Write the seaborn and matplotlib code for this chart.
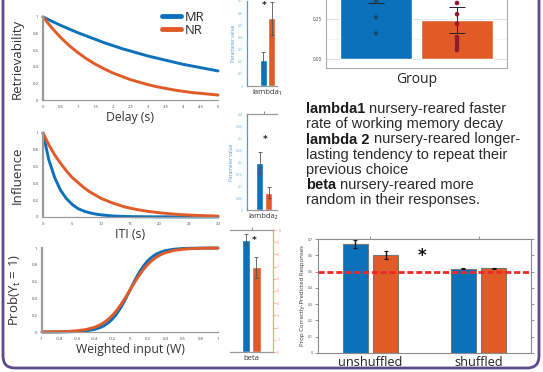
import numpy as np
import pandas as pd
import matplotlib
matplotlib.use("Agg")
import matplotlib.pyplot as plt
import seaborn as sns
from matplotlib.patches import FancyBboxPatch
from matplotlib.ticker import FuncFormatter

# ---- data ----
groups = ["MR", "NR"]

delay = [0, 0.25, 0.5, 0.75, 1, 1.25, 1.5, 1.75, 2, 2.25, 2.5, 2.75, 3, 3.25, 3.5, 3.75, 4, 4.25, 4.5, 4.75, 5]
retr_mr = [1.0, 0.95, 0.90, 0.855, 0.81, 0.77, 0.73, 0.69, 0.655, 0.62, 0.59, 0.56, 0.53, 0.505, 0.48, 0.455, 0.43, 0.41, 0.39, 0.37, 0.35]
retr_nr = [1.0, 0.87, 0.755, 0.655, 0.57, 0.495, 0.43, 0.375, 0.325, 0.285, 0.245, 0.215, 0.185, 0.16, 0.14, 0.12, 0.105, 0.09, 0.08, 0.07, 0.06]

iti = [0, 1, 2, 3, 4, 5, 6, 7, 8, 9, 10, 12, 14, 16, 18, 20, 22, 24, 26, 28, 30]
infl_mr = [1.0, 0.68, 0.47, 0.32, 0.22, 0.15, 0.10, 0.07, 0.05, 0.035, 0.025, 0.012, 0.006, 0.004, 0.003, 0.002, 0.002, 0.001, 0.001, 0.001, 0.001]
infl_nr = [1.0, 0.86, 0.74, 0.64, 0.55, 0.47, 0.41, 0.35, 0.30, 0.26, 0.22, 0.165, 0.12, 0.09, 0.067, 0.05, 0.037, 0.027, 0.02, 0.015, 0.011]

w_input = [-1, -0.9, -0.8, -0.7, -0.6, -0.5, -0.4, -0.35, -0.3, -0.25, -0.2, -0.15, -0.1, -0.05, 0,
           0.05, 0.1, 0.15, 0.2, 0.25, 0.3, 0.35, 0.4, 0.5, 0.6, 0.7, 0.8, 0.9, 1]
prob_mr = [0.0002, 0.0005, 0.001, 0.003, 0.006, 0.014, 0.032, 0.049, 0.072, 0.107, 0.154, 0.218, 0.299, 0.395, 0.5,
           0.605, 0.701, 0.782, 0.846, 0.893, 0.928, 0.951, 0.968, 0.986, 0.994, 0.997, 0.999, 0.9995, 0.9998]
prob_nr = [0.001, 0.002, 0.004, 0.007, 0.015, 0.029, 0.057, 0.079, 0.109, 0.148, 0.198, 0.259, 0.332, 0.413, 0.5,
           0.587, 0.668, 0.741, 0.802, 0.852, 0.891, 0.921, 0.943, 0.971, 0.985, 0.993, 0.996, 0.998, 0.999]

lambda1_mean = [0.214, 0.556]
lambda1_err = [0.066, 0.136]
lambda2_mean = [0.1975, 0.0725]
lambda2_err = [0.0425, 0.0225]
beta_mean = [9.2, 6.95]
beta_err = [0.45, 0.85]

group_mean = [0.45, 0.245]
group_err = [0.10, 0.0825]
mr_points = [0.36, 0.26, 0.16]
nr_points = [0.35, 0.28, 0.22, 0.1375, 0.125, 0.106, 0.0875, 0.069, 0.056]

conditions = ["unshuffled", "shuffled"]
acc_mr = [0.669, 0.516]
acc_nr = [0.602, 0.520]
acc_mr_err = [0.027, 0.003]
acc_nr_err = [0.022, 0.002]
chance = 0.5

notes = [("lambda1", "nursery-reared faster"),
         ("", "rate of working memory decay"),
         ("lambda 2", "nursery-reared longer-"),
         ("", "lasting tendency to repeat their"),
         ("", "previous choice"),
         ("beta", "nursery-reared more"),
         ("", "random in their responses.")]

# ---- style ----
BLUE = "#0b71ba"
ORANGE = "#e05b27"
GRAY = "#8c8c8c"
palette = {"MR": BLUE, "NR": ORANGE}

sns.set_style("white")
plt.rcParams["font.family"] = ["Open Sans", "DejaVu Sans"]
plt.rcParams["mathtext.fontset"] = "custom"
plt.rcParams["mathtext.rm"] = "Open Sans"

W, H = 543, 372
fig = plt.figure(figsize=(W / 100, H / 100), dpi=100)


def px_axes(x0, y0, x1, y1):
    return fig.add_axes([x0 / W, 1 - y1 / H, (x1 - x0) / W, (y1 - y0) / H])


fmt = FuncFormatter(lambda v, p: f"{v:g}")


def curve_panel(ax, xs, mr, nr, xlim, xticks, xlabel, ylabel, legend=False):
    df = pd.DataFrame({"x": list(xs) * 2, "y": list(mr) + list(nr),
                       "group": ["MR"] * len(xs) + ["NR"] * len(xs)})
    sns.lineplot(data=df, x="x", y="y", hue="group", palette=palette, lw=2.1,
                 ax=ax, legend=legend, estimator=None)
    for ln in ax.lines:
        ln.set_clip_on(False)
    ax.set_xlim(xlim)
    ax.set_ylim(0, 1)
    ax.set_xticks(xticks)
    ax.set_yticks([0, 0.2, 0.4, 0.6, 0.8, 1])
    ax.xaxis.set_major_formatter(fmt)
    ax.yaxis.set_major_formatter(fmt)
    ax.tick_params(length=2, width=0.6, color=GRAY, labelsize=3, pad=1.5, labelcolor="#444")
    for s in ["top", "right"]:
        ax.spines[s].set_visible(False)
    ax.spines["left"].set_color("#9a9a9a")
    ax.spines["left"].set_linewidth(1.6)
    ax.spines["bottom"].set_color("#9a9a9a")
    ax.spines["bottom"].set_linewidth(0.9)
    ax.set_xlabel(xlabel, fontsize=8.8, color="#333", labelpad=1.5)
    ax.set_ylabel(ylabel, fontsize=9.5, color="#333", labelpad=6)
    ax.set_facecolor("none")


ax1 = px_axes(43, 17, 218, 100)
curve_panel(ax1, delay, retr_mr, retr_nr, (0, 5), [0, 0.5, 1, 1.5, 2, 2.5, 3, 3.5, 4, 4.5, 5],
            "Delay (s)", "Retrievability", legend=True)
sns.move_legend(ax1, "upper left", bbox_to_anchor=(0.65, 1.14), title=None, frameon=False,
                fontsize=9.3, handlelength=1.5, handletextpad=0.3, labelspacing=0.0, borderaxespad=0)
for h in ax1.get_legend().get_lines():
    h.set_linewidth(3.5)

ax2 = px_axes(43, 133, 218, 217)
curve_panel(ax2, iti, infl_mr, infl_nr, (0, 30), [0, 5, 10, 15, 20, 25, 30], "ITI (s)", "Influence")

ax3 = px_axes(42, 248, 218, 332)
curve_panel(ax3, w_input, prob_mr, prob_nr, (-1, 1),
            [-1, -0.8, -0.6, -0.4, -0.2, 0, 0.2, 0.4, 0.6, 0.8, 1],
            "Weighted input (W)", r"Prob(Y$_{\mathregular{t}}$ = 1)")


def param_panel(ax, means, errs, xlim, ylim, yticks, xtick):
    df = pd.DataFrame({"group": groups, "value": means})
    sns.barplot(data=df, x="group", y="value", hue="group", palette=palette, saturation=1,
                width=0.8, legend=False, ax=ax)
    for bar, e in zip(ax.patches, errs):
        ax.errorbar(bar.get_x() + bar.get_width() / 2, bar.get_height(), yerr=e, color="#555",
                    lw=0.6, capsize=1.2, capthick=0.6, clip_on=False)
    ax.set_xlim(xlim)
    ax.set_ylim(ylim)
    ax.set_yticks(yticks)
    ax.yaxis.set_major_formatter(fmt)
    ax.set_xticks([xtick])
    ax.set_xticklabels([""])
    ax.set_xlabel("")
    ax.set_facecolor("none")
    for s in ax.spines.values():
        s.set_linewidth(0.9)
        s.set_color("#9a9a9a")
    ax.tick_params(axis="x", length=2.5, width=0.6, color="#777", direction="out", pad=0)


# lambda 1
axl1 = px_axes(247, 1, 277, 86)
param_panel(axl1, lambda1_mean, lambda1_err, (-1.98, 1.64), (0, 0.7),
            [0, 0.1, 0.2, 0.3, 0.4, 0.5, 0.6, 0.7], 0)
axl1.spines["top"].set_visible(False)
axl1.spines["right"].set_visible(False)
axl1.spines["left"].set_color("#4a9ad6")
axl1.tick_params(axis="y", length=2, width=0.5, color="#4a9ad6", labelsize=2.5,
                 labelcolor="#6aaee0", pad=1)
axl1.set_ylabel("Parameter value", fontsize=3.5, color="#4a9ad6", labelpad=1)
axl1.set_xlabel("lambda₁", fontsize=5.5, color="#333", labelpad=0)
axl1.xaxis.set_label_coords(0.68, -0.04, transform=axl1.transAxes)
axl1.xaxis.label.set_va("top")
axl1.text(0.05, 0.665, "*", fontsize=6.5, fontweight="bold", ha="center", va="center",
          color="#222", family="DejaVu Sans", clip_on=False)

# lambda 2
axl2 = px_axes(247, 114, 277, 210)
param_panel(axl2, lambda2_mean, lambda2_err, (-1.39, 1.94), (0, 0.4),
            [0, 0.05, 0.1, 0.15, 0.2, 0.25, 0.3, 0.35, 0.4], 0.45)
axl2.spines["right"].set_visible(False)
axl2.spines["left"].set_color("#4a9ad6")
axl2.tick_params(axis="x", top=True)
axl2.tick_params(axis="y", length=2, width=0.5, color="#4a9ad6", labelsize=2.5,
                 labelcolor="#6aaee0", pad=1)
axl2.set_ylabel("Parameter value", fontsize=3.5, color="#4a9ad6", labelpad=1)
axl2.set_xlabel("lambda₂", fontsize=5.5, color="#333", labelpad=0)
axl2.xaxis.set_label_coords(0.55, -0.035, transform=axl2.transAxes)
axl2.xaxis.label.set_va("top")
axl2.text(0.6, 0.295, "*", fontsize=6.5, fontweight="bold", ha="center", va="center",
          color="#222", family="DejaVu Sans")

# beta
axb = px_axes(230, 230, 273, 352)
param_panel(axb, beta_mean, beta_err, (-1.52, 2.57), (0, 10), list(range(11)), 0.55)
axb.spines["left"].set_visible(False)
axb.spines["right"].set_color("#f4a27f")
axb.yaxis.tick_right()
axb.tick_params(axis="x", top=True)
axb.tick_params(axis="y", length=2, width=0.5, color="#f4a27f", labelsize=2.5,
                labelcolor="#f08a60", pad=1)
axb.set_ylabel("")
axb.set_xlabel("beta", fontsize=5.5, color="#333", labelpad=0)
axb.xaxis.set_label_coords(0.5, -0.025, transform=axb.transAxes)
axb.xaxis.label.set_va("top")
axb.text(0.76, 9.1, "*", fontsize=6.5, fontweight="bold", ha="center", va="center",
         color="#222", family="DejaVu Sans")

# group means with individual animals
axg = px_axes(326, -13, 507, 68)
gdf = pd.DataFrame({"group": groups, "value": group_mean})
sns.barplot(data=gdf, x="group", y="value", hue="group", palette=palette, saturation=1,
            width=0.9, legend=False, ax=axg, zorder=2)
for bar, e in zip(axg.patches, group_err):
    axg.errorbar(bar.get_x() + bar.get_width() / 2, bar.get_height(), yerr=e, color="#222",
                 lw=0.7, capsize=6, capthick=0.7, zorder=4)
pts = pd.DataFrame({"group": ["MR"] * len(mr_points) + ["NR"] * len(nr_points),
                    "value": mr_points + nr_points})
sns.stripplot(data=pts, x="group", y="value", hue="group", order=groups,
              palette={"MR": "#1d4a66", "NR": "#8e1b2c"}, jitter=False, size=3.3,
              legend=False, ax=axg, zorder=5)
axg.set_xlim(-0.617, 1.617)
axg.set_ylim(-0.056, 0.45)
axg.set_yticks([0, 0.25])
axg.set_yticklabels(["0.00", "0.25"])
axg.set_yticks([0.125, 0.375], minor=True)
axg.grid(axis="y", which="major", color="#e4e4e4", lw=0.8)
axg.grid(axis="y", which="minor", color="#efefef", lw=0.5)
axg.set_axisbelow(True)
axg.set_xticks([0, 1])
axg.set_xticklabels(["", ""])
axg.tick_params(axis="both", length=2, width=0.6, color="#999", labelsize=3.3,
                labelcolor="#444", pad=1, direction="out")
for s in ["left", "bottom", "right"]:
    axg.spines[s].set_color("#aaaaaa")
    axg.spines[s].set_linewidth(0.8)
axg.spines["top"].set_visible(False)
axg.set_ylabel("")
axg.set_xlabel("Group", fontsize=10, color="#222", labelpad=0)

# prediction accuracy
axp = px_axes(318, 239, 531, 353)
pdf = pd.DataFrame({"condition": conditions * 2, "group": ["MR"] * 2 + ["NR"] * 2,
                    "value": acc_mr + acc_nr})
sns.barplot(data=pdf, x="condition", y="value", hue="group", order=conditions, hue_order=groups,
            palette=palette, saturation=1, width=0.556, gap=0.17, edgecolor="#777",
            linewidth=0.8, legend=False, ax=axp)
for bar, e in zip(axp.patches, acc_mr_err + acc_nr_err):
    axp.errorbar(bar.get_x() + bar.get_width() / 2, bar.get_height(), yerr=e, color="#111",
                 lw=1.0, capsize=1.5, capthick=0.8)
axp.axhline(chance, color="#ea2a2a", lw=2, ls=(0, (2.2, 1.0)), zorder=5)
axp.text(0.477, 0.597, "*", fontsize=12, fontweight="bold", ha="center", va="center",
         color="#111", family="DejaVu Sans")
axp.set_xlim(-0.486, 1.486)
axp.set_ylim(0, 0.7)
axp.set_yticks([0, 0.1, 0.2, 0.3, 0.4, 0.5, 0.6, 0.7])
axp.yaxis.set_major_formatter(fmt)
axp.tick_params(axis="y", left=True, right=True, length=2.5, width=0.5, color="#666",
                labelsize=2.5, labelcolor="#444", pad=1, direction="out")
axp.tick_params(axis="x", top=True, bottom=False, length=2.5, width=0.5, color="#666",
                labelsize=9.2, labelcolor="#222", pad=0, direction="out")
for s in axp.spines.values():
    s.set_color("#8a8a8a")
    s.set_linewidth(0.8)
axp.set_xlabel("")
axp.set_ylabel("Prop Correctly-Predicted Responses", fontsize=4.3, color="#333", labelpad=2)

# description text
renderer = fig.canvas.get_renderer()
y0, dy = 113.3, 15.1
for i, (bold, rest) in enumerate(notes):
    yb = 1 - (y0 + i * dy) / H
    x = 306 / W
    if bold:
        t = fig.text(x, yb, bold, fontsize=10.5, fontweight="bold", va="baseline",
                     family="Liberation Sans", color="#1a1a1a")
        bb = t.get_window_extent(renderer)
        x = (bb.x1 + 4) / W
    fig.text(x, yb, rest, fontsize=10.5, va="baseline", family="Liberation Sans", color="#2a2a2a")

# poster panel frame
frame = FancyBboxPatch((0.03, 0.04), 5.36, 4.5, boxstyle="round,pad=0,rounding_size=0.12",
                       transform=fig.dpi_scale_trans, fill=False, ec="#5e4a8a", lw=2, zorder=-1)
fig.add_artist(frame)

fig.savefig("out.png", dpi=100)
